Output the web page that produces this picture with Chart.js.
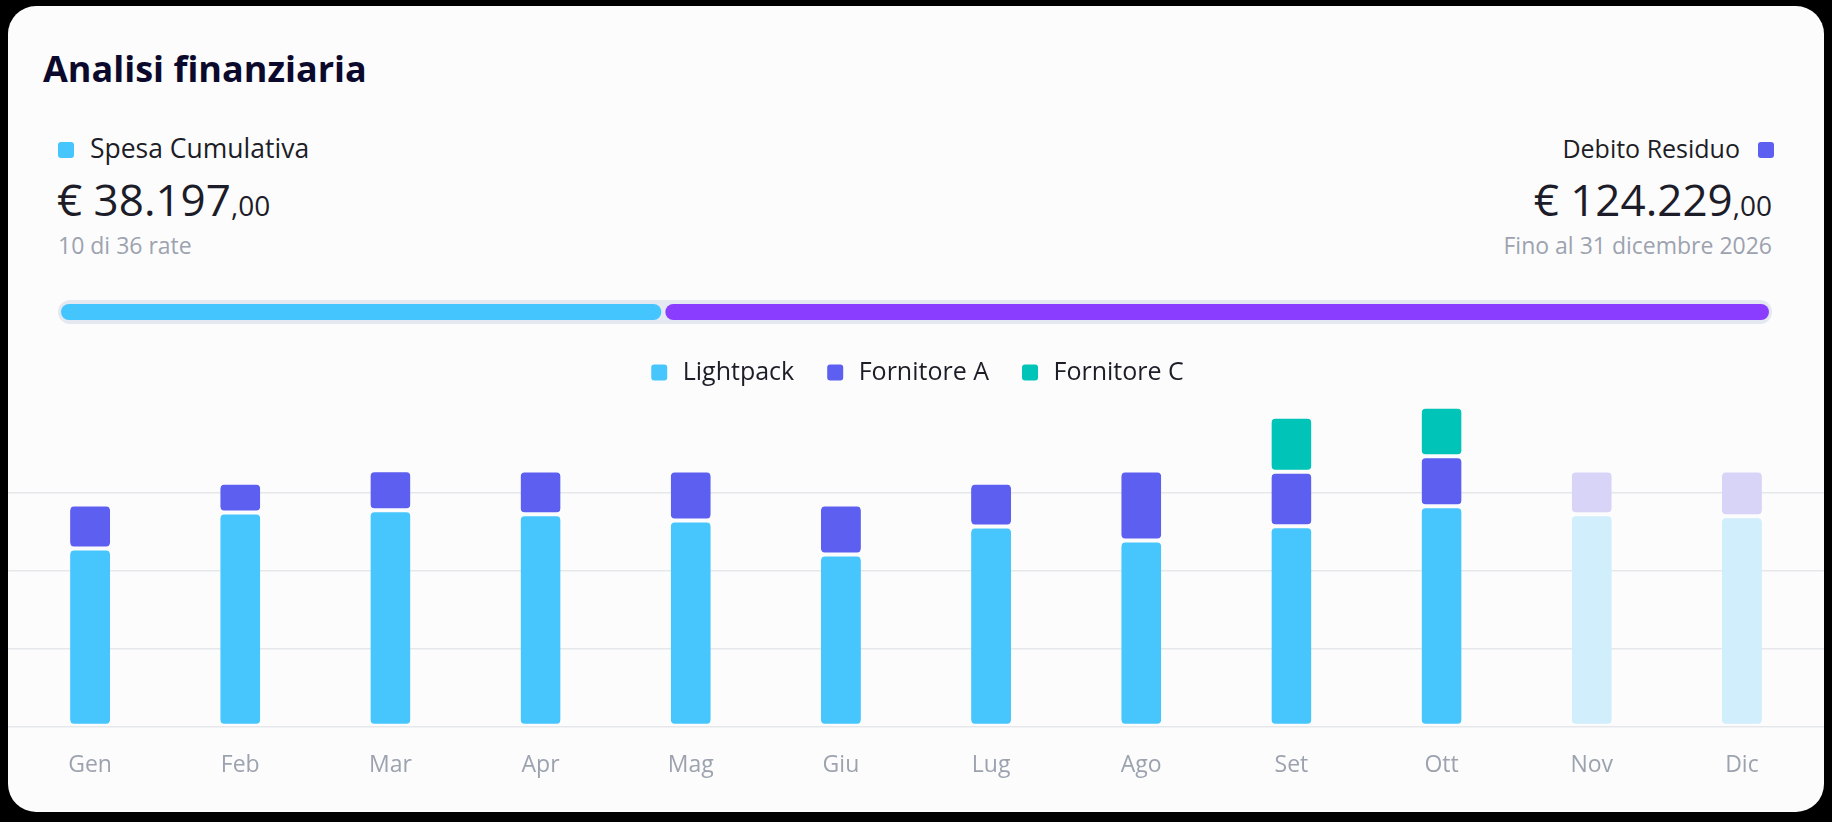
<!DOCTYPE html>
<html>
<head>
<meta charset="utf-8">
<script src="https://cdn.jsdelivr.net/npm/chart.js@4.4.1/dist/chart.umd.min.js"></script>
<style>
  html, body { margin:0; padding:0; background:#000; width:1832px; height:822px; overflow:hidden; font-family:"Open Sans", sans-serif; }
  .card { position:absolute; left:8px; top:6px; width:1816px; height:806px; border-radius:28px; background:#fcfcfd; }
  .abs { position:absolute; line-height:1; white-space:nowrap; }
  .title { left:43px; top:51px; font-size:36px; font-weight:700; color:#0c0a2c; }
  .lbl { font-size:25px; color:#1d1d27; top:136px; }
  .sq { position:absolute; width:16px; height:16px; border-radius:3px; top:142px; }
  .big { font-size:44px; font-weight:500; color:#1d1d29; top:177px; }
  .big span { font-size:28px; }
  .sub { font-size:23px; color:#9ca3af; top:234px; }
  .track { position:absolute; left:58px; top:300px; width:1714px; height:24px; border-radius:12px; background:#e4e8f0; }
  .pwrap { position:absolute; left:59px; top:302px; width:1712px; height:20px; }
  .cwrap { position:absolute; left:8px; top:330px; width:1816px; height:474px; }
</style>
</head>
<body>
<div class="card"></div>
<div class="abs title">Analisi finanziaria</div>

<div class="sq" style="left:58px;background:#47c6fe;"></div>
<div class="abs lbl" style="left:90px;font-size:26.5px;top:135px;">Spesa Cumulativa</div>
<div class="abs big" style="left:57px;">€ 38.197<span>,00</span></div>
<div class="abs sub" style="left:58px;">10 di 36 rate</div>

<div class="abs lbl" style="right:92px;">Debito Residuo</div>
<div class="sq" style="left:1758px;background:#5c5fef;"></div>
<div class="abs big" style="right:60px;">€ 124.229<span>,00</span></div>
<div class="abs sub" style="right:60px;">Fino al 31 dicembre 2026</div>

<div class="track"></div>
<div class="pwrap"><canvas id="progress"></canvas></div>
<div class="cwrap"><canvas id="chart"></canvas></div>

<script>
// ---- Data ----
const months = ['Gen','Feb','Mar','Apr','Mag','Giu','Lug','Ago','Set','Ott','Nov','Dic'];
const lightpack  = [2282, 2744, 2771, 2720, 2641, 2205, 2564, 2385, 2566, 2822, 2720, 2694];
const fornitoreA = [564, 381, 515, 562, 641, 641, 560, 897, 701, 641, 562, 588];
const fornitoreC = [null, null, null, null, null, null, null, null, 703, 635, null, null];
const isForecast = [false, false, false, false, false, false, false, false, false, false, true, true];
const gridValues = [0, 1000, 2000, 3000];
const progressPaid = [35.3];
const progressRemaining = [64.7];

const CARD_BG = '#fcfcfd';
Chart.defaults.font.family = "'Open Sans', sans-serif";

function colorFor(solid, faded) {
  return (ctx) => (ctx.dataIndex !== undefined && isForecast[ctx.dataIndex]) ? faded : solid;
}
function corners(r) { return { topLeft: r, topRight: r, bottomLeft: r, bottomRight: r }; }

const barStyle = {
  borderWidth: { top: 2, bottom: 2, left: 0, right: 0 },
  borderColor: CARD_BG,
  borderSkipped: false,
  borderRadius: corners(6),
  inflateAmount: 0,
  barThickness: 40
};

const yCommon = {
  stacked: true,
  min: 0,
  max: 4250,
  border: { display: false },
  ticks: { display: false },
  afterBuildTicks: (axis) => { axis.ticks = gridValues.map(v => ({ value: v })); }
};

new Chart(document.getElementById('chart'), {
  type: 'bar',
  data: {
    labels: months,
    datasets: [
      Object.assign({ label: 'Lightpack', data: lightpack, backgroundColor: colorFor('#47c6fe', '#d0eefb') }, barStyle),
      Object.assign({ label: 'Fornitore A', data: fornitoreA, backgroundColor: colorFor('#5c5fef', '#d7d4f7') }, barStyle),
      Object.assign({ label: 'Fornitore C', data: fornitoreC, backgroundColor: colorFor('#00c4b8', '#c6efec') }, barStyle)
    ]
  },
  options: {
    responsive: true,
    maintainAspectRatio: false,
    animation: false,
    layout: { padding: 0 },
    plugins: {
      tooltip: { enabled: false },
      legend: {
        display: true,
        position: 'top',
        align: 'center',
        labels: {
          font: { size: 25 },
          color: '#1d1d27',
          boxWidth: 22,
          boxHeight: 22,
          padding: 30,
          useBorderRadius: true,
          borderRadius: 6,
          generateLabels: (chart) => Chart.defaults.plugins.legend.labels.generateLabels(chart)
            .map(l => Object.assign(l, { lineWidth: 6, strokeStyle: CARD_BG }))
        }
      }
    },
    scales: {
      x: {
        stacked: true,
        grid: { display: false, drawTicks: false },
        border: { display: false },
        ticks: { color: '#9ca3af', font: { size: 23 }, padding: 25 }
      },
      y: Object.assign({}, yCommon, {
        position: 'left',
        grid: { color: '#e5e7eb', lineWidth: 1.5, tickLength: 7 }
      }),
      y2: Object.assign({}, yCommon, {
        position: 'right',
        grid: { color: '#e5e7eb', lineWidth: 1.5, tickLength: 7, drawOnChartArea: false }
      })
    }
  }
});

const progStyle = {
  borderWidth: 2,
  borderColor: '#e4e8f0',
  borderSkipped: false,
  borderRadius: corners(10),
  inflateAmount: 0,
  barPercentage: 1,
  categoryPercentage: 1
};

new Chart(document.getElementById('progress'), {
  type: 'bar',
  data: {
    labels: ['Rate'],
    datasets: [
      Object.assign({ label: 'Spesa Cumulativa', data: progressPaid, backgroundColor: '#45c5fd' }, progStyle),
      Object.assign({ label: 'Debito Residuo', data: progressRemaining, backgroundColor: '#8a3cff' }, progStyle)
    ]
  },
  options: {
    indexAxis: 'y',
    responsive: true,
    maintainAspectRatio: false,
    animation: false,
    layout: { padding: 0 },
    plugins: { legend: { display: false }, tooltip: { enabled: false } },
    scales: {
      x: { stacked: true, min: 0, max: 100, display: false },
      y: { stacked: true, display: false }
    }
  }
});
</script>
</body>
</html>
